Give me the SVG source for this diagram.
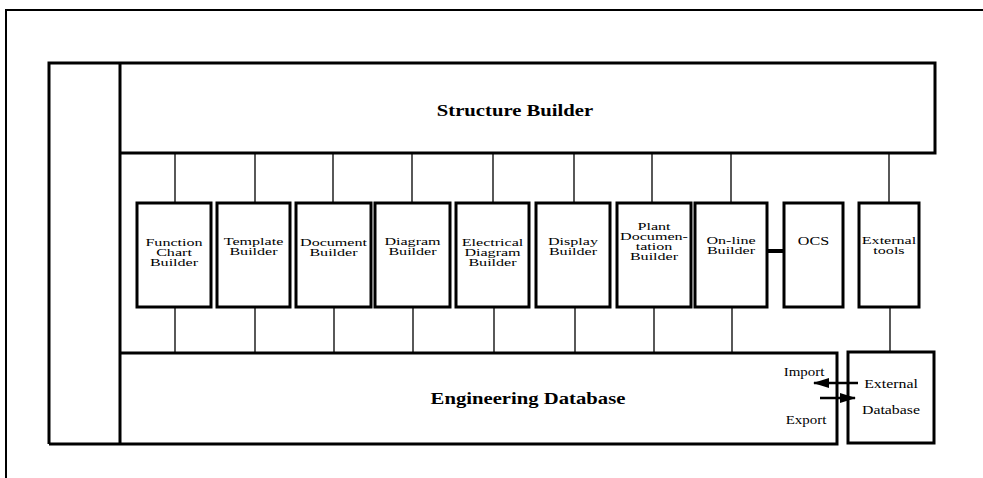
<svg xmlns="http://www.w3.org/2000/svg" width="983" height="478" viewBox="0 0 983 478">
<style>
.frame{fill:none;stroke:#000;stroke-width:3}
.box{fill:#fff;stroke:#000;stroke-width:3}
.conn{stroke:#000;stroke-width:1.3;fill:none}
.lbl{font-family:"Liberation Serif","Times New Roman",serif;font-size:14px;fill:#000;text-anchor:middle}
.big{font-family:"Liberation Serif","Times New Roman",serif;font-size:18px;font-weight:bold;fill:#000;text-anchor:middle}
.sm{font-family:"Liberation Serif","Times New Roman",serif;font-size:13px;fill:#000;text-anchor:middle}
</style>
<defs>
<marker id="ah" markerWidth="16" markerHeight="10" refX="15" refY="5" orient="auto" markerUnits="userSpaceOnUse">
<path d="M0,0 L16,5 L0,10 Z" fill="#000"/>
</marker>
</defs>
<rect width="983" height="478" fill="#fff"/>
<g id="page-frame">
<path d="M6,478 L6,10 L983,10" fill="none" stroke="#000" stroke-width="2"/>
</g>
<g id="structure-builder">
<path class="frame" d="M49,444 L49,63 L935,63 L935,153 L120,153"/>
<path class="frame" d="M120,63 L120,444"/>
<text class="big" transform="translate(515,116) scale(1.15,0.95)">Structure Builder</text>
</g>
<g id="engineering-database">
<path class="frame" d="M49,444 L837,444 L837,353 L121,353"/>
<text class="big" transform="translate(528,404) scale(1.15,0.95)">Engineering Database</text>
<text class="sm" transform="translate(804,376) scale(1.15,0.9)">Import</text>
<text class="sm" transform="translate(806,424) scale(1.15,0.9)">Export</text>
</g>
<g id="external-database">
<rect class="box" x="848" y="352" width="86" height="91"/>
<text class="sm" transform="translate(891,388) scale(1.22,0.9)">External</text>
<text class="sm" transform="translate(891,414) scale(1.22,0.9)">Database</text>
</g>
<g id="connectors">
<path class="conn" d="M175,153V203M255,153V203M333,153V203M412,153V203M493,153V203M574,153V203M652,153V203M731,153V203M889,153V203"/>
<path class="conn" d="M175,307V353M255,307V353M334,307V353M413,307V353M494,307V353M575,307V353M654,307V353M732,307V353M890,307V352"/>
<path d="M767,251H784" stroke="#000" stroke-width="4"/>
<path d="M858,383H814" stroke="#000" stroke-width="2.5" marker-end="url(#ah)"/>
<path d="M820,398H855" stroke="#000" stroke-width="2.5" marker-end="url(#ah)"/>
</g>
<g id="function-chart-builder">
<rect class="box" x="137" y="203" width="74" height="104"/>
<text class="lbl" transform="translate(174,246) scale(1.15,0.76)"><tspan x="0">Function</tspan><tspan x="0" dy="13.2">Chart</tspan><tspan x="0" dy="13.4">Builder</tspan></text>
</g>
<g id="template-builder">
<rect class="box" x="217" y="203" width="73" height="104"/>
<text class="lbl" transform="translate(253.5,245) scale(1.15,0.76)"><tspan x="0">Template</tspan><tspan x="0" dy="13.2">Builder</tspan></text>
</g>
<g id="document-builder">
<rect class="box" x="296" y="203" width="75" height="104"/>
<text class="lbl" transform="translate(333.5,246) scale(1.15,0.76)"><tspan x="0">Document</tspan><tspan x="0" dy="12.8">Builder</tspan></text>
</g>
<g id="diagram-builder">
<rect class="box" x="375" y="203" width="75" height="104"/>
<text class="lbl" transform="translate(412.5,245) scale(1.15,0.76)"><tspan x="0">Diagram</tspan><tspan x="0" dy="13.2">Builder</tspan></text>
</g>
<g id="electrical-diagram-builder">
<rect class="box" x="456" y="203" width="73" height="104"/>
<text class="lbl" transform="translate(492.5,246) scale(1.15,0.76)"><tspan x="0">Electrical</tspan><tspan x="0" dy="13.2">Diagram</tspan><tspan x="0" dy="13.2">Builder</tspan></text>
</g>
<g id="display-builder">
<rect class="box" x="536" y="203" width="74" height="104"/>
<text class="lbl" transform="translate(573,245) scale(1.15,0.76)"><tspan x="0">Display</tspan><tspan x="0" dy="13.2">Builder</tspan></text>
</g>
<g id="plant-documentation-builder">
<rect class="box" x="617" y="203" width="74" height="104"/>
<text class="lbl" transform="translate(654,230) scale(1.15,0.76)"><tspan x="0">Plant</tspan><tspan x="0" dy="13">Documen-</tspan><tspan x="0" dy="13.4">tation</tspan><tspan x="0" dy="13.4">Builder</tspan></text>
</g>
<g id="on-line-builder">
<rect class="box" x="695" y="203" width="72" height="104"/>
<text class="lbl" transform="translate(731,244) scale(1.15,0.76)"><tspan x="0">On-line</tspan><tspan x="0" dy="12.8">Builder</tspan></text>
</g>
<g id="ocs">
<rect class="box" x="784" y="203" width="59" height="104"/>
<text class="lbl" transform="translate(813.5,245) scale(1.15,0.85)">OCS</text>
</g>
<g id="external-tools">
<rect class="box" x="859" y="203" width="60" height="104"/>
<text class="lbl" transform="translate(889,244) scale(1.15,0.76)"><tspan x="0">External</tspan><tspan x="0" dy="12.8">tools</tspan></text>
</g>
</svg>
